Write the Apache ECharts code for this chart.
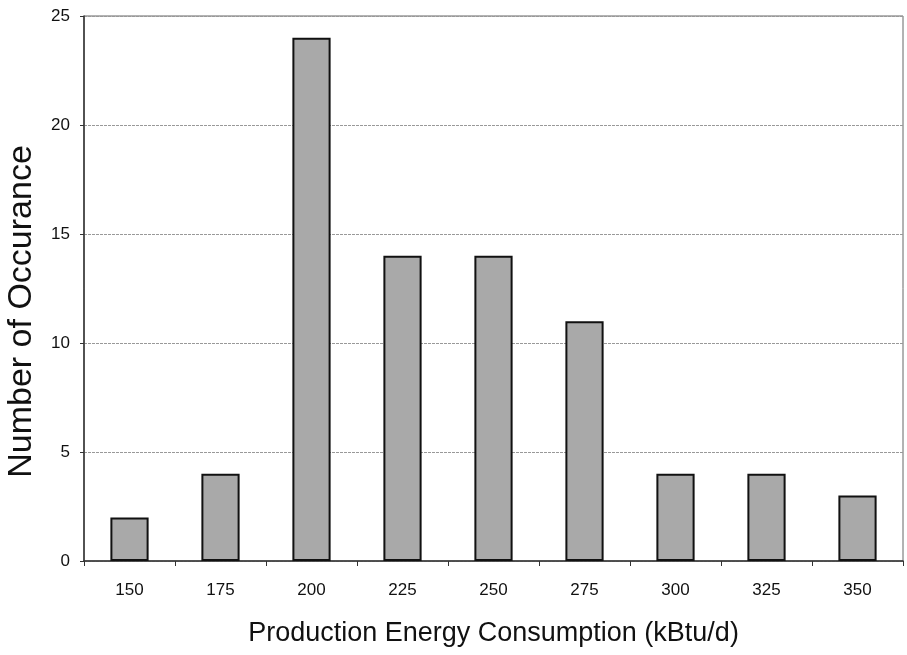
<!DOCTYPE html>
<html>
<head>
<meta charset="utf-8">
<script src="https://cdn.jsdelivr.net/npm/echarts@6/dist/echarts.min.js"></script>
<style>
  html, body { margin: 0; padding: 0; background: #fff; }
  #chart { width: 907px; height: 655px; }
</style>
</head>
<body>
<div id="chart"></div>
<script>
const categories = ['150', '175', '200', '225', '250', '275', '300', '325', '350'];
const counts = [2, 4, 24, 14, 14, 11, 4, 4, 3];
const yTicks = [0, 5, 10, 15, 20, 25];

const chart = echarts.init(document.getElementById('chart'));

chart.setOption({
  animation: false,
  textStyle: { fontFamily: 'Liberation Sans, Arial, sans-serif' },
  grid: {
    left: 84, right: 4, top: 16, bottom: 94,
    outerBoundsMode: 'none',
    show: true,
    borderColor: '#666',
    borderWidth: 1,
  },
  xAxis: {
    type: 'category',
    data: categories,
    name: 'Production Energy Consumption (kBtu/d)',
    nameLocation: 'middle',
    nameGap: 59,
    nameTextStyle: { fontSize: 27, color: '#111' },
    axisLine: { lineStyle: { color: '#333', width: 1.5 } },
    axisTick: { show: true, length: 5, lineStyle: { color: '#333' } },
    axisLabel: { fontSize: 17, color: '#111', margin: 21 },
  },
  yAxis: {
    type: 'value',
    min: yTicks[0],
    max: yTicks[yTicks.length - 1],
    interval: 5,
    name: 'Number of Occurance',
    nameLocation: 'middle',
    nameGap: 45,
    nameTextStyle: { fontSize: 34, color: '#111', padding: [0, 46, 0, 0] },
    axisLine: { show: true, lineStyle: { color: '#333', width: 1.5 } },
    axisTick: { show: true, length: 4, lineStyle: { color: '#333' } },
    axisLabel: { fontSize: 17, color: '#111', margin: 14 },
    splitLine: { show: true, lineStyle: { color: '#999', width: 1, type: [3, 1] } },
  },
  series: [{
    type: 'bar',
    data: counts,
    barWidth: '42%',
    itemStyle: {
      color: '#a9a9a9',
      borderColor: '#111',
      borderWidth: 2,
    },
  }],
});
</script>
</body>
</html>
